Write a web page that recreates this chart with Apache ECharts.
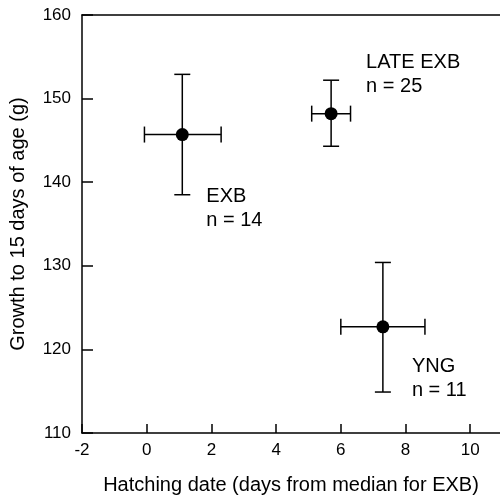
<!DOCTYPE html>
<html>
<head>
<meta charset="utf-8">
<script src="https://cdn.jsdelivr.net/npm/echarts@6/dist/echarts.min.js"></script>
<style>
  html, body { margin: 0; padding: 0; background: #fff; }
  #main { width: 500px; height: 500px; }
</style>
</head>
<body>
<div id="main"></div>
<script>
// group means and error bar ends
var groups = ['EXB', 'LATE EXB', 'YNG'];
var counts = [14, 25, 11];
var hatchMean = [1.1, 5.7, 7.3];
var hatchLow = [-0.07, 5.1, 6.0];
var hatchHigh = [2.3, 6.3, 8.6];
var growthMean = [145.7, 148.2, 122.7];
var growthLow = [138.5, 144.3, 114.9];
var growthHigh = [152.9, 152.2, 130.4];

// label offsets from each point (px)
var labelOffsets = [[24, 74], [35, -39], [29, 52]];

var FONT = 'Liberation Sans, Arial, sans-serif';

var myChart = echarts.init(document.getElementById('main'));

var errData = groups.map(function (g, i) {
  return [hatchMean[i], growthMean[i], hatchLow[i], hatchHigh[i], growthLow[i], growthHigh[i]];
});

function renderErr(params, api) {
  var c = api.coord([api.value(0), api.value(1)]);
  var l = api.coord([api.value(2), api.value(1)]);
  var r = api.coord([api.value(3), api.value(1)]);
  var lo = api.coord([api.value(0), api.value(4)]);
  var hi = api.coord([api.value(0), api.value(5)]);
  var cap = 8;
  var st = { stroke: '#000', lineWidth: 1.5 };
  return {
    type: 'group',
    children: [
      { type: 'line', shape: { x1: l[0], y1: c[1], x2: r[0], y2: c[1] }, style: st },
      { type: 'line', shape: { x1: l[0], y1: c[1] - cap, x2: l[0], y2: c[1] + cap }, style: st },
      { type: 'line', shape: { x1: r[0], y1: c[1] - cap, x2: r[0], y2: c[1] + cap }, style: st },
      { type: 'line', shape: { x1: c[0], y1: lo[1], x2: c[0], y2: hi[1] }, style: st },
      { type: 'line', shape: { x1: c[0] - cap, y1: lo[1], x2: c[0] + cap, y2: lo[1] }, style: st },
      { type: 'line', shape: { x1: c[0] - cap, y1: hi[1], x2: c[0] + cap, y2: hi[1] }, style: st }
    ]
  };
}

var pointData = groups.map(function (g, i) {
  return {
    value: [hatchMean[i], growthMean[i]],
    label: {
      show: true,
      position: 'right',
      distance: 0,
      offset: [labelOffsets[i][0] - 6.5, labelOffsets[i][1]],
      formatter: g + '\nn = ' + counts[i]
    }
  };
});

myChart.setOption({
  animation: false,
  grid: { left: 79, top: 15, right: 0, bottom: 67 },
  xAxis: [{
    type: 'value',
    min: -2,
    max: 10.92,
    interval: 2,
    name: 'Hatching date (days from median for EXB)',
    nameLocation: 'middle',
    nameGap: 42,
    nameTextStyle: { color: '#000', fontSize: 20, fontFamily: FONT },
    axisLine: { onZero: false, lineStyle: { color: '#000', width: 1.5 } },
    axisTick: { inside: true, length: 9, lineStyle: { color: '#000', width: 1.5 } },
    axisLabel: { color: '#000', fontSize: 17, fontFamily: FONT, margin: 9, showMaxLabel: false },
    splitLine: { show: false }
  }, {
    type: 'value',
    position: 'top',
    min: -2,
    max: 10.92,
    axisLine: { show: true, onZero: false, lineStyle: { color: '#000', width: 1.5 } },
    axisTick: { show: false },
    axisLabel: { show: false },
    splitLine: { show: false }
  }],
  yAxis: {
    type: 'value',
    min: 110,
    max: 160,
    interval: 10,
    name: 'Growth to 15 days of age (g)',
    nameLocation: 'middle',
    nameGap: 54,
    nameTextStyle: { color: '#000', fontSize: 20, fontFamily: FONT },
    axisLine: { show: true, onZero: false, lineStyle: { color: '#000', width: 1.5 } },
    axisTick: { show: true, inside: true, length: 11, lineStyle: { color: '#000', width: 1.5 } },
    axisLabel: { color: '#000', fontSize: 17, fontFamily: FONT, margin: 11 },
    splitLine: { show: false }
  },
  series: [{
    type: 'custom',
    renderItem: renderErr,
    data: errData,
    encode: { x: 0, y: 1 },
    z: 2
  }, {
    type: 'scatter',
    symbol: 'circle',
    symbolSize: 13,
    itemStyle: { color: '#000', opacity: 1 },
    label: { color: '#000', fontSize: 20, fontFamily: FONT, lineHeight: 24, align: 'left' },
    data: pointData,
    z: 3
  }]
});
</script>
</body>
</html>
